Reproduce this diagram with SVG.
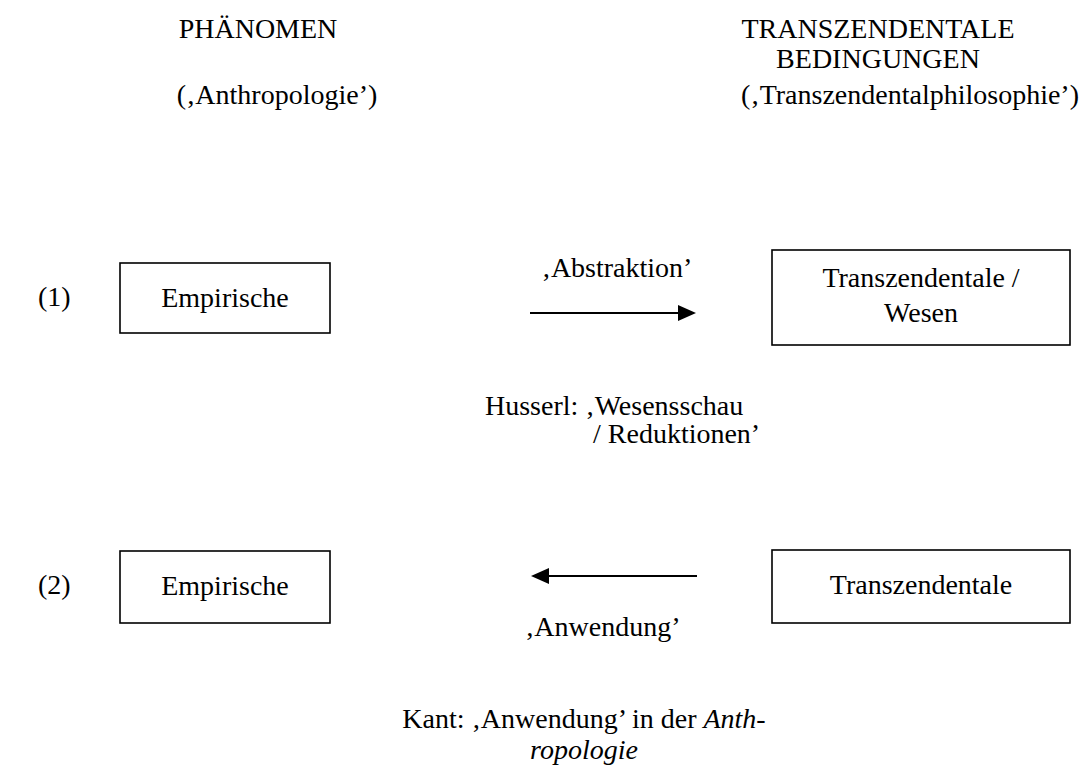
<svg xmlns="http://www.w3.org/2000/svg" width="1086" height="769" viewBox="0 0 1086 769">
<style>
text{font-family:"Liberation Serif","Times New Roman",serif;font-size:28px;fill:#000}
.m{text-anchor:middle}
.box{fill:#fff;stroke:#000;stroke-width:1.6}
.conn{stroke:#000;stroke-width:2;fill:none}
</style>
<defs>
<marker id="ah" markerWidth="9" markerHeight="8" refX="1" refY="4" orient="auto" markerUnits="strokeWidth"><path d="M0,0 L9,4 L0,8 Z" fill="#000"/></marker>
</defs>
<rect width="1086" height="769" fill="#fff"/>
<g id="headers">
<text class="m" x="258" y="38">PHÄNOMEN</text>
<text class="m" x="878" y="38">TRANSZENDENTALE</text>
<text class="m" x="878" y="68">BEDINGUNGEN</text>
<text class="m" x="277" y="104">(‚Anthropologie’)</text>
<text class="m" x="910" y="104">(‚Transzendentalphilosophie’)</text>
</g>
<g id="row1"><text x="38" y="306">(1)</text></g>
<g id="emp1"><rect class="box" x="120" y="263" width="210" height="70"/><text class="m" x="225" y="307">Empirische</text></g>
<g id="trans1"><rect class="box" x="772" y="250" width="298" height="95"/><text class="m" x="921" y="287">Transzendentale /</text><text class="m" x="921" y="322">Wesen</text></g>
<g id="row2"><text x="38" y="594">(2)</text></g>
<g id="emp2"><rect class="box" x="120" y="551" width="210" height="72"/><text class="m" x="225" y="595">Empirische</text></g>
<g id="trans2"><rect class="box" x="772" y="550" width="298" height="73"/><text class="m" x="921" y="594">Transzendentale</text></g>
<g id="connectors">
<line class="conn" x1="530" y1="313" x2="680" y2="313" marker-end="url(#ah)"/>
<line class="conn" x1="697" y1="576" x2="547" y2="576" marker-end="url(#ah)"/>
</g>
<g id="labels">
<text class="m" x="617" y="277">‚Abstraktion’</text>
<text x="485" y="415">Husserl: ‚Wesensschau</text>
<text x="593" y="443">/ Reduktionen’</text>
<text x="525" y="636">‚Anwendung’</text>
<text class="m" x="584" y="728">Kant: ‚Anwendung’ in der <tspan font-style="italic">Anth-</tspan></text>
<text class="m" x="584" y="759" font-style="italic">ropologie</text>
</g>
</svg>
